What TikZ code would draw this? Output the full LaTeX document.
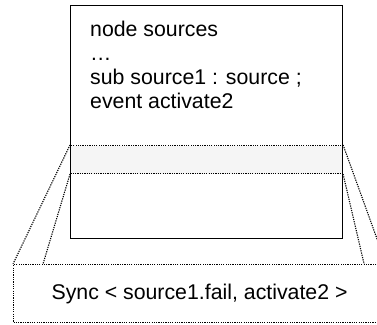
\documentclass[tikz,border=0pt]{standalone}
\usepackage{fontspec}
\setmainfont{Liberation Sans}
\usetikzlibrary{positioning}

\begin{document}
\begin{tikzpicture}[x=1pt, y=-1pt, inner sep=0pt,
    dots/.style={dash pattern=on 1.2pt off 1.1pt, line width=1.1pt},
    box/.style={draw, rectangle, line width=1.3pt, anchor=north west},
    txt/.style={font=\fontsize{21.3}{24}\selectfont}]
\useasboundingbox (0,0) rectangle (377,324);
\clip (0,0) rectangle (377,324);
\node[draw, dots, fill=gray!8, rectangle, minimum width=272pt, minimum height=28pt, anchor=north west] (band) at (70,145) {};
\node[box, minimum width=272pt, minimum height=233pt] (sources) at (70,5) {};
\node[txt, anchor=north west, align=left] (decl) at (90,20.5) {node sources\\…\\sub source1 : source ;\\event activate2};
\node[txt, draw, dots, rectangle, minimum width=372pt, minimum height=58pt, anchor=north west] (sync) at (13,264) {Sync < source1.fail, activate2 >};
\draw[dots] (band.north west) -- (sync.north west);
\draw[dots] (band.south west) -- ([xshift=30pt]sync.north west);
\draw[dots] (band.north east) -- (sync.north east);
\draw[dots] (band.south east) -- ([xshift=-22pt]sync.north east);
\end{tikzpicture}
\end{document}
